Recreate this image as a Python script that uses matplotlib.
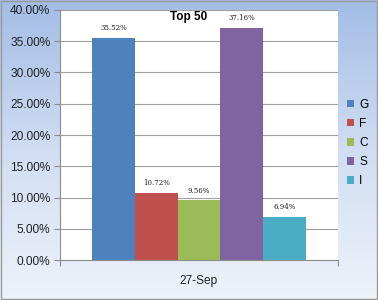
import numpy as np
import matplotlib
matplotlib.use("Agg")
import matplotlib.pyplot as plt
from matplotlib.colors import LinearSegmentedColormap
from matplotlib.ticker import FuncFormatter, MultipleLocator

plt.rcParams["font.family"] = ["Liberation Sans", "DejaVu Sans"]

# datos del grafico
series = ["G", "F", "C", "S", "I"]
valores = [35.52, 10.72, 9.56, 37.16, 6.94]
colores = ["#4f81bd", "#c0504d", "#9bbb59", "#8064a2", "#4bacc6"]
categoria = "27-Sep"
titulo = "Top 50"

fig = plt.figure(figsize=(3.78, 3.0), dpi=100)

# fondo degradado
fondo = fig.add_axes([0, 0, 1, 1])
cmap = LinearSegmentedColormap.from_list("fondo", ["#a3bde6", "#d0ddf2", "#eef3fa"])
grad = np.linspace(0, 1, 256).reshape(-1, 1)
fondo.imshow(grad, aspect="auto", cmap=cmap, extent=[0, 1, 0, 1])
fondo.set_xlim(0, 1)
fondo.set_ylim(0, 1)
fondo.axis("off")
fondo.add_patch(plt.Rectangle((0.002, 0.003), 0.995, 0.993, fill=False,
                              edgecolor="#9a9a9a", linewidth=1))

ax = fig.add_axes([0.159, 0.133, 0.735, 0.834])
ax.set_facecolor("white")

n = len(series)
ancho = 0.77 / n
for i, (s, v, c) in enumerate(zip(series, valores, colores)):
    x = (i - (n - 1) / 2) * ancho
    ax.bar(x, v, width=ancho, color=c, label=s, zorder=3)
    ax.text(x, v + 0.9, f"{v:.2f}%", ha="center", va="bottom",
            fontsize=5, family="DejaVu Serif", color="#222222", zorder=4)

ax.set_xlim(-0.5, 0.5)
ax.set_ylim(0, 40)
ax.yaxis.set_major_locator(MultipleLocator(5))
ax.yaxis.set_major_formatter(FuncFormatter(lambda y, p: f"{y:.2f}%"))
ax.grid(axis="y", color="#a0a0a0", linewidth=0.8, zorder=0)
ax.set_xticks([-0.5, 0.5])
ax.set_xticklabels(["", ""])
ax.tick_params(axis="x", length=4, color="#8c8c8c")
ax.tick_params(axis="y", length=4, pad=3, color="#8c8c8c", labelsize=8.6, labelcolor="#222222")
for lado in ["top", "right"]:
    ax.spines[lado].set_visible(False)
ax.spines["left"].set_color("#8c8c8c")
ax.spines["bottom"].set_color("#8c8c8c")
ax.text(0.5, -0.085, categoria, transform=ax.transAxes, ha="center", va="center",
        fontsize=8.6, color="#222222")
ax.text(0.464, 0.972, titulo, transform=ax.transAxes, ha="center", va="center",
        fontsize=8.5, fontweight="bold", color="black", zorder=5)

leg = fig.legend(loc="upper left", bbox_to_anchor=(0.89, 0.707), frameon=False,
                 fontsize=8.6, handlelength=0.6, handleheight=0.6, handletextpad=0.4,
                 labelspacing=0.6)

plt.savefig("out.png", dpi=100)
